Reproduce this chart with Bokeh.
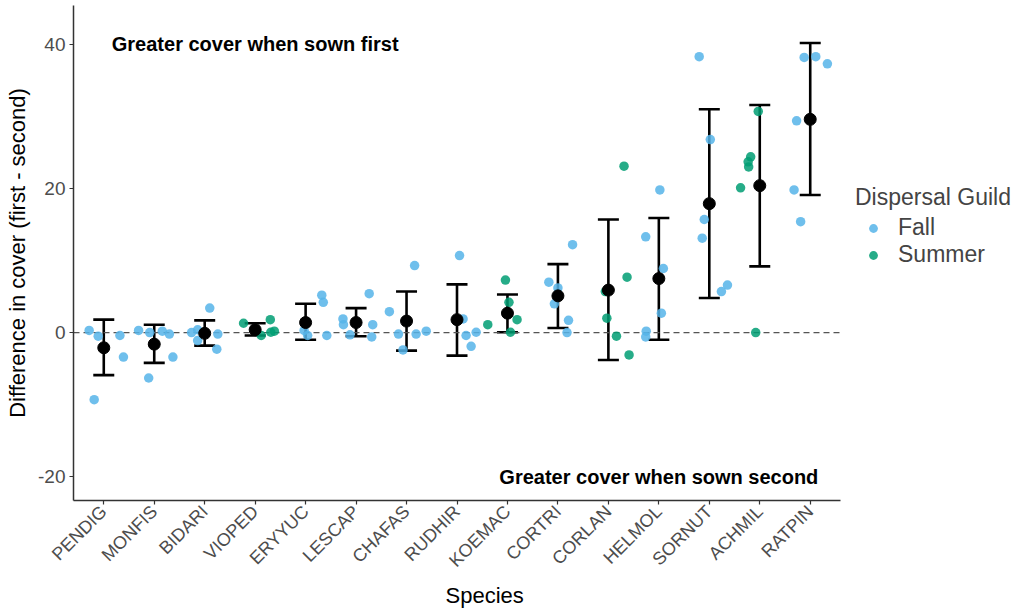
import math
from bokeh.plotting import figure
from bokeh.models import (ColumnDataSource, Whisker, TeeHead, Legend, LegendItem,
                          FixedTicker, Label, Range1d, Title)
from bokeh.embed import file_html
from bokeh.resources import INLINE

species = ["PENDIG", "MONFIS", "BIDARI", "VIOPED", "ERYYUC", "LESCAP", "CHAFAS", "RUDHIR",
           "KOEMAC", "CORTRI", "CORLAN", "HELMOL", "SORNUT", "ACHMIL", "RATPIN"]
guild = ["Fall", "Fall", "Fall", "Summer", "Fall", "Fall", "Fall", "Fall",
         "Summer", "Fall", "Summer", "Fall", "Fall", "Summer", "Fall"]

mean_diff = [-2.1, -1.6, -0.1, 0.4, 1.4, 1.4, 1.6, 1.8, 2.7, 5.1, 5.9, 7.5, 17.9, 20.4, 29.6]
upper_ci = [1.8, 1.1, 1.7, 1.3, 4.0, 3.4, 5.7, 6.7, 5.3, 9.5, 15.7, 15.9, 31.0, 31.6, 40.2]
lower_ci = [-5.9, -4.2, -1.8, -0.4, -1.0, -0.5, -2.5, -3.2, 0.05, 0.65, -3.8, -1.0, 4.8, 9.2, 19.1]

# individual replicate differences per species, with horizontal jitter (category units)
rep_values = {
    "PENDIG": [0.3, -0.5, -9.3, -0.4, -3.4],
    "MONFIS": [0.3, 0.0, -6.3, 0.2, -0.2, -3.4],
    "BIDARI": [3.4, 0.4, 0.0, -1.1, -0.2, -2.3],
    "VIOPED": [1.3, 1.8, 0.05, -0.4, 0.2],
    "ERYYUC": [5.2, 4.2, 0.3, -0.4, -0.4],
    "LESCAP": [1.9, 1.1, -0.3, 5.4, 1.1, -0.6],
    "CHAFAS": [2.9, -0.2, -2.4, 9.3, -0.2, 0.2],
    "RUDHIR": [10.7, 1.9, -0.4, -1.9, 0.05],
    "KOEMAC": [7.3, 4.2, 1.8, 1.1, 0.05],
    "CORTRI": [7.0, 6.2, 4.0, 12.2, 1.7, 0.0],
    "CORLAN": [23.1, 7.7, 5.7, 2.0, -0.5, -3.1],
    "HELMOL": [19.8, 13.3, 8.9, 2.7, 0.2, -0.6],
    "SORNUT": [38.3, 26.8, 15.7, 13.1, 6.6, 5.7],
    "ACHMIL": [30.7, 24.4, 23.7, 23.0, 20.1, 0.0],
    "RATPIN": [38.2, 38.3, 37.3, 29.4, 19.8, 15.4],
}
rep_jitter = {
    "PENDIG": [-0.29, -0.11, -0.19, 0.32, 0.39],
    "MONFIS": [-0.31, -0.09, -0.11, 0.16, 0.30, 0.37],
    "BIDARI": [0.10, -0.14, -0.26, -0.14, 0.26, 0.24],
    "VIOPED": [-0.23, 0.30, 0.31, 0.12, 0.38],
    "ERYYUC": [0.32, 0.35, -0.03, 0.04, 0.42],
    "LESCAP": [-0.26, -0.25, -0.12, 0.26, 0.33, 0.31],
    "CHAFAS": [-0.34, -0.16, -0.07, 0.16, 0.19, 0.39],
    "RUDHIR": [0.05, 0.12, 0.18, 0.28, 0.38],
    "KOEMAC": [-0.04, 0.03, 0.19, -0.39, 0.06],
    "CORTRI": [-0.18, 0.00, -0.07, 0.29, 0.21, 0.18],
    "CORLAN": [0.31, 0.37, -0.06, -0.03, 0.16, 0.41],
    "HELMOL": [0.02, -0.26, 0.09, 0.05, -0.25, -0.26],
    "SORNUT": [-0.20, 0.02, -0.10, -0.14, 0.36, 0.24],
    "ACHMIL": [-0.03, -0.18, -0.23, -0.22, -0.38, -0.08],
    "RATPIN": [-0.12, 0.11, 0.34, -0.27, -0.32, -0.19],
}

y_ticks = [-20, 0, 20, 40]

colors = {"Fall": "#56B4E9", "Summer": "#009E73"}
FONT = "Liberation Sans"

# panel spans categories 0.4 .. 15.6; extra room to the right hosts the legend
X_LO, X_HI = 0.4, 15.6
PANEL_W = 767
FRAME_W = 946
x_end = X_LO + (X_HI - X_LO) * FRAME_W / PANEL_W

p = figure(frame_width=FRAME_W, frame_height=495, x_range=Range1d(X_LO, x_end),
           y_range=Range1d(-23.3, 45.4),
           output_backend="svg", toolbar_location=None,
           min_border_left=73, min_border_right=0, min_border_top=5, min_border_bottom=109)
p.xgrid.visible = False
p.ygrid.visible = False
p.outline_line_color = None
p.background_fill_color = "white"
p.border_fill_color = "white"

# dashed zero reference line across the panel
p.segment(x0=[X_LO], x1=[X_HI], y0=[0], y1=[0], line_dash="6 4", line_color="#555555", line_width=1.2)

renderers = {}
for g in ["Fall", "Summer"]:
    xs, ys = [], []
    for i, sp in enumerate(species):
        if guild[i] != g:
            continue
        for j, v in zip(rep_jitter[sp], rep_values[sp]):
            xs.append(i + 1 + j)
            ys.append(v)
    renderers[g] = p.scatter(xs, ys, size=9.5, color=colors[g], alpha=0.85, line_color=None)

xpos = [i + 1 for i in range(len(species))]
src = ColumnDataSource(dict(x=xpos, mean=mean_diff, upper=upper_ci, lower=lower_ci))
w = Whisker(base="x", upper="upper", lower="lower", source=src, line_width=2.6, line_color="black",
            upper_head=TeeHead(size=21, line_width=2.6, line_color="black"),
            lower_head=TeeHead(size=21, line_width=2.6, line_color="black"))
p.add_layout(w)
p.scatter("x", "mean", source=src, size=12, color="black")

p.add_layout(Label(x=4, y=40, text="Greater cover when sown first", text_align="center",
                   text_baseline="middle", text_font_style="bold", text_font_size="20px",
                   text_font=FONT, text_color="black"))
p.add_layout(Label(x=12, y=-20, text="Greater cover when sown second", text_align="center",
                   text_baseline="middle", text_font_style="bold", text_font_size="20px",
                   text_font=FONT, text_color="black"))

for ax in (p.xaxis[0], p.yaxis[0]):
    ax.axis_line_color = "#333333"
    ax.axis_line_width = 1.5
    ax.major_tick_line_color = "#333333"
    ax.major_tick_line_width = 1.2
    ax.major_tick_out = 4
    ax.major_tick_in = 0
    ax.minor_tick_line_color = None
    ax.major_label_text_font = FONT
    ax.major_label_text_color = "#4D4D4D"
    ax.major_label_standoff = 4
    ax.axis_label_text_font = FONT
    ax.axis_label_text_font_size = "22px"
    ax.axis_label_text_font_style = "normal"
    ax.axis_label_text_color = "black"

p.xaxis.major_label_text_font_size = "18px"
p.yaxis.major_label_text_font_size = "19px"
p.xaxis.bounds = (X_LO, X_HI)
p.xaxis.ticker = FixedTicker(ticks=xpos)
p.xaxis.major_label_overrides = {i + 1: sp for i, sp in enumerate(species)}
p.xaxis.major_label_orientation = math.pi / 4
p.yaxis.ticker = FixedTicker(ticks=y_ticks)
p.yaxis.major_label_overrides = {t: str(t) for t in y_ticks}
p.yaxis.axis_label = "Difference in cover (first - second)"

# x-axis title centred under the category panel (not the whole frame)
p.add_layout(Title(text="Species", align="left", offset=372, text_font=FONT,
                   text_font_size="22px", text_font_style="normal", text_color="black",
                   standoff=0), "below")

legend = Legend(items=[LegendItem(label="Fall", renderers=[renderers["Fall"]]),
                       LegendItem(label="Summer", renderers=[renderers["Summer"]])],
                title="Dispersal Guild", location=(782, 232), border_line_color=None,
                background_fill_alpha=0, padding=0, margin=0,
                title_text_font=FONT, title_text_font_size="23px", title_text_font_style="normal",
                title_standoff=3,
                label_text_font=FONT, label_text_font_size="23px",
                glyph_width=36, glyph_height=22, spacing=-3, label_standoff=7)
p.add_layout(legend)

open("out.html", "w").write(file_html(p, INLINE))
